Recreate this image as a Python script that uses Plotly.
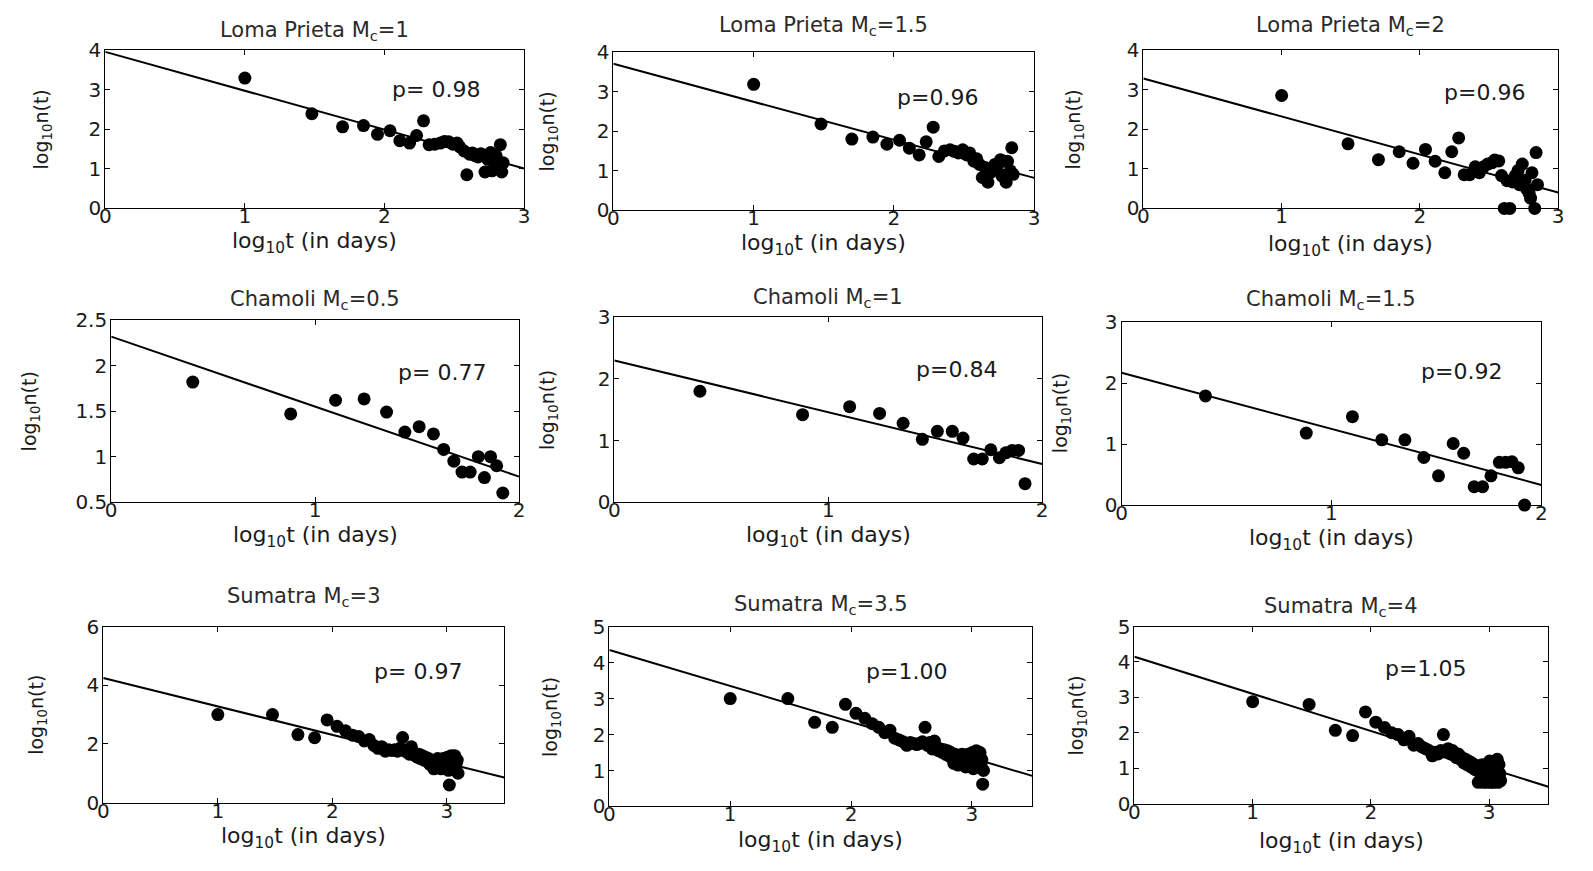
import plotly.graph_objects as go

# ---- data: log10 of elapsed time (days) and log10 of aftershock rate ----
LOMA_T = [1.00, 1.48, 1.70, 1.85, 1.95, 2.04, 2.11, 2.18, 2.23, 2.28, 2.32, 2.36,
          2.40, 2.43, 2.46, 2.49, 2.52, 2.54, 2.57, 2.59, 2.61, 2.63, 2.65, 2.67,
          2.69, 2.71, 2.72, 2.74, 2.76, 2.77, 2.79, 2.80, 2.81, 2.83, 2.84, 2.85]
LOMA_MC1 = [3.29, 2.39, 2.06, 2.09, 1.87, 1.96, 1.71, 1.65, 1.84, 2.21, 1.61, 1.62,
            1.65, 1.69, 1.68, 1.62, 1.65, 1.55, 1.45, 0.85, 1.37, 1.40, 1.33, 1.30,
            1.38, 1.35, 0.92, 1.24, 1.41, 0.95, 1.20, 1.33, 1.12, 1.61, 0.92, 1.15]
LOMA_MC15 = [3.18, 2.18, 1.80, 1.85, 1.67, 1.77, 1.57, 1.40, 1.73, 2.10, 1.36, 1.50,
             1.53, 1.49, 1.45, 1.53, 1.40, 1.45, 1.24, 1.30, 1.16, 0.83, 1.08, 0.71,
             0.96, 1.10, 1.16, 1.16, 1.28, 0.87, 1.24, 0.71, 1.24, 1.00, 1.58, 0.91]
LOMA_MC2 = [2.85, 1.63, 1.23, 1.43, 1.14, 1.49, 1.19, 0.90, 1.43, 1.78, 0.85, 0.85,
            1.05, 0.90, 1.05, 1.12, 1.15, 1.22, 1.20, 0.83, 0.00, 0.70, 0.00, 0.67,
            0.83, 0.96, 0.60, 1.12, 0.71, 0.50, 0.38, 0.26, 0.90, 0.00, 1.41, 0.60]

CHAMOLI_T = [0.40, 0.88, 1.10, 1.24, 1.35, 1.44, 1.51, 1.58, 1.63, 1.68, 1.72, 1.76,
             1.80, 1.83, 1.86, 1.89, 1.92]
CHAMOLI_MC05 = [1.82, 1.47, 1.62, 1.635, 1.49, 1.27, 1.33, 1.25, 1.08, 0.95, 0.83, 0.83,
                1.00, 0.77, 1.00, 0.90, 0.60]
CHAMOLI_MC1 = [1.80, 1.42, 1.55, 1.44, 1.28, 1.02, 1.15, 1.15, 1.04, 0.70, 0.70, 0.85,
               0.72, 0.80, 0.84, 0.84, 0.30]
CHAMOLI_MC15 = [1.79, 1.18, 1.45, 1.07, 1.07, 0.78, 0.48, 1.01, 0.85, 0.30, 0.30, 0.48,
                0.70, 0.70, 0.71, 0.61, 0.00]

SUMATRA_T = [1.000, 1.477, 1.699, 1.845, 1.954, 2.041, 2.114, 2.176, 2.230, 2.279,
             2.322, 2.362, 2.398, 2.431, 2.462, 2.491, 2.519, 2.544, 2.568, 2.591,
             2.613, 2.633, 2.653, 2.672, 2.690, 2.708, 2.724, 2.740, 2.756, 2.771,
             2.785, 2.799, 2.813, 2.826, 2.839, 2.851, 2.863, 2.875, 2.886, 2.898,
             2.908, 2.919, 2.929, 2.940, 2.949, 2.959, 2.968, 2.978, 2.987, 2.996,
             3.004, 3.013, 3.021, 3.029, 3.037, 3.045, 3.053, 3.061, 3.068, 3.076,
             3.083, 3.090, 3.097]
SUMATRA_MC3 = [3.00, 3.00, 2.32, 2.21, 2.82, 2.60, 2.45, 2.30, 2.25, 2.10,
               2.15, 1.95, 1.85, 1.90, 1.75, 1.80, 1.78, 1.80, 1.75, 1.85,
               2.22, 1.75, 1.80, 1.65, 1.90, 1.70, 1.60, 1.55, 1.65, 1.50,
               1.60, 1.45, 1.55, 1.40, 1.50, 1.30, 1.45, 1.35, 1.15, 1.40,
               1.30, 1.50, 1.25, 1.40, 1.15, 1.35, 1.50, 1.20, 1.45, 1.30,
               1.55, 1.10, 0.60, 1.25, 1.60, 1.30, 1.15, 1.45, 1.60, 1.20,
               1.35, 1.45, 1.00]
SUMATRA_MC35 = [3.00, 3.00, 2.34, 2.20, 2.84, 2.59, 2.45, 2.30, 2.20, 2.05,
                2.12, 1.90, 1.85, 1.80, 1.70, 1.78, 1.75, 1.72, 1.75, 1.80,
                2.20, 1.70, 1.78, 1.60, 1.82, 1.65, 1.55, 1.60, 1.50, 1.58,
                1.45, 1.55, 1.40, 1.50, 1.35, 1.20, 1.45, 1.30, 1.15, 1.35,
                1.25, 1.45, 1.20, 1.35, 1.10, 1.30, 1.45, 1.15, 1.40, 1.25,
                1.50, 1.05, 1.35, 1.20, 1.55, 1.25, 1.10, 1.40, 1.50, 1.15,
                1.30, 0.62, 1.00]
SUMATRA_MC4 = [2.88, 2.80, 2.07, 1.92, 2.59, 2.30, 2.15, 2.00, 1.95, 1.80,
               1.90, 1.65, 1.70, 1.60, 1.55, 1.50, 1.35, 1.45, 1.40, 1.50,
               1.95, 1.45, 1.55, 1.40, 1.50, 1.35, 1.30, 1.40, 1.25, 1.30,
               1.15, 1.25, 1.10, 1.20, 1.05, 1.15, 1.00, 1.10, 0.95, 1.05,
               0.60, 0.90, 0.70, 1.10, 0.60, 0.85, 1.00, 0.60, 0.95, 0.75,
               1.20, 0.60, 0.90, 1.05, 0.60, 0.80, 1.15, 0.70, 1.25, 0.60,
               1.10, 0.85, 0.65]

# panel titles, decay exponents p and fitted intercepts (log10 n at t = 1 day)
TITLES = ["Loma Prieta M<sub>c</sub>=1", "Loma Prieta M<sub>c</sub>=1.5", "Loma Prieta M<sub>c</sub>=2",
          "Chamoli M<sub>c</sub>=0.5", "Chamoli M<sub>c</sub>=1", "Chamoli M<sub>c</sub>=1.5",
          "Sumatra M<sub>c</sub>=3", "Sumatra M<sub>c</sub>=3.5", "Sumatra M<sub>c</sub>=4"]
P_VALUES = [0.98, 0.96, 0.96, 0.77, 0.84, 0.92, 0.97, 1.00, 1.05]
P_LABELS = ["p= 0.98", "p=0.96", "p=0.96", "p= 0.77", "p=0.84", "p=0.92",
            "p= 0.97", "p=1.00", "p=1.05"]
INTERCEPTS = [3.95, 3.70, 3.28, 2.32, 2.30, 2.17, 4.25, 4.35, 4.15]

SERIES = [(LOMA_T, LOMA_MC1), (LOMA_T, LOMA_MC15), (LOMA_T, LOMA_MC2),
          (CHAMOLI_T, CHAMOLI_MC05), (CHAMOLI_T, CHAMOLI_MC1), (CHAMOLI_T, CHAMOLI_MC15),
          (SUMATRA_T, SUMATRA_MC3), (SUMATRA_T, SUMATRA_MC35), (SUMATRA_T, SUMATRA_MC4)]

# ---- layout of the 3x3 grid ----
W, H = 1593, 871
BOXES = [  # left, right, top, bottom in pixels
    (100, 522, 39, 202), (612, 1036, 41, 204), (1146, 1564, 39, 202),
    (106, 517, 317, 504), (613, 1044, 314, 504), (1124, 1547, 319, 507),
    (98, 502, 632, 813), (608, 1034, 632, 817), (1137, 1554, 632, 814),
]
X_RANGES = [[0, 3]] * 3 + [[0, 2]] * 3 + [[0, 3.5]] * 3
Y_RANGES = [[0, 4], [0, 4], [0, 4], [0.5, 2.5], [0, 3], [0, 3], [0, 6], [0, 5], [0, 5]]
Y_DTICK = [1, 1, 1, 0.5, 1, 1, 2, 1, 1]
P_POS = [(2.37, 3.0), (2.31, 2.85), (2.47, 2.92), (1.62, 1.93), (1.60, 2.16),
         (1.62, 2.19), (2.75, 4.47), (2.46, 3.76), (2.46, 3.82)]
YTITLE_SHIFT = [-63, -65, -69, -81, -66, -60, -66, -58, -57]
XTITLE_SHIFT = [-34, -34, -37, -34, -34, -34, -35, -35, -39]
TITLE_SHIFT = [19, 26, 24, 20, 19, 22, 30, 22, 20]

FONT = "DejaVu Sans"
INK = "#1a1a1a"

fig = go.Figure()
annotations = []
layout = dict(width=W, height=H, margin=dict(l=0, r=0, t=0, b=0),
              paper_bgcolor="white", plot_bgcolor="white", showlegend=False,
              font=dict(family=FONT, color=INK))

for i in range(9):
    n = "" if i == 0 else str(i + 1)
    xa, ya = "x" + n, "y" + n
    l, r, t, b = BOXES[i]
    xs, ys = SERIES[i]

    fig.add_trace(go.Scatter(x=xs, y=ys, mode="markers", xaxis=xa, yaxis=ya,
                             marker=dict(size=13, color="black"), cliponaxis=False,
                             hoverinfo="skip"))
    x0, x1 = X_RANGES[i]
    fit_x = [x0, x1]
    fit_y = [INTERCEPTS[i] - P_VALUES[i] * v for v in fit_x]
    fig.add_trace(go.Scatter(x=fit_x, y=fit_y, mode="lines", xaxis=xa, yaxis=ya,
                             line=dict(color="black", width=2), hoverinfo="skip"))

    common = dict(showline=True, linecolor="black", linewidth=1, mirror="ticks",
                  ticks="inside", ticklen=5, tickcolor="black", showgrid=False,
                  zeroline=False, tickfont=dict(family=FONT, size=20, color=INK))
    layout["xaxis" + n] = dict(domain=[l / W, r / W], range=X_RANGES[i], anchor=ya,
                               dtick=1, tick0=0, ticklabelstandoff=-10, **common)
    layout["yaxis" + n] = dict(domain=[1 - b / H, 1 - t / H], range=Y_RANGES[i], anchor=xa,
                               dtick=Y_DTICK[i], tick0=0, ticklabelstandoff=-1, **common)

    annotations.append(dict(text=TITLES[i], xref=xa + " domain", yref=ya + " domain",
                            x=0.5, y=1, yanchor="middle", yshift=TITLE_SHIFT[i],
                            showarrow=False,
                            font=dict(family=FONT, size=21, color="#2a2a2a")))
    annotations.append(dict(text="log<sub>10</sub>t (in days)", xref=xa + " domain",
                            yref=ya + " domain", x=0.5, y=0, yanchor="middle",
                            yshift=XTITLE_SHIFT[i], showarrow=False,
                            font=dict(family=FONT, size=22, color=INK)))
    annotations.append(dict(text="log<sub>10</sub>n(t)", xref=xa + " domain",
                            yref=ya + " domain", x=0, y=0.5, xanchor="center",
                            xshift=YTITLE_SHIFT[i], textangle=-90, showarrow=False,
                            font=dict(family=FONT, size=19, color=INK)))
    px, py = P_POS[i]
    annotations.append(dict(text=P_LABELS[i], xref=xa, yref=ya, x=px, y=py,
                            showarrow=False, font=dict(family=FONT, size=22, color=INK)))

layout["annotations"] = annotations
fig.update_layout(**layout)
fig.write_html("out.html")
